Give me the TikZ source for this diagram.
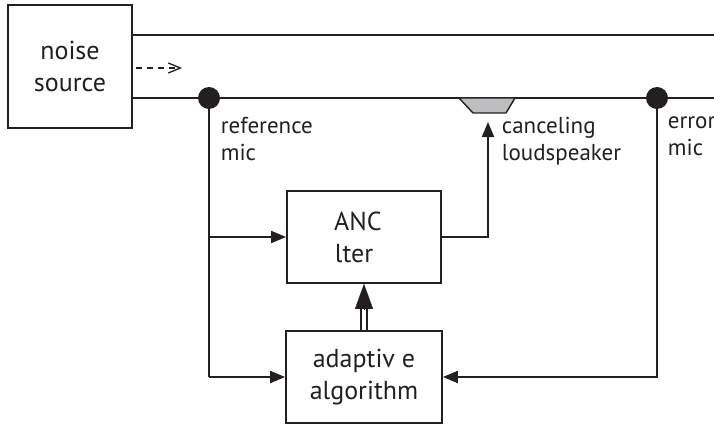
\documentclass[tikz,border=0pt]{standalone}
\usepackage{fontspec}
\setmainfont{PT Sans}
\usetikzlibrary{arrows.meta,calc}
\definecolor{ink}{HTML}{231F20}
\definecolor{cone}{HTML}{BCBEC0}
\begin{document}
\begin{tikzpicture}[x=1pt,y=-1pt,color=ink,
  every path/.style={line width=1.8pt},
  blockbox/.style={draw,line width=1.8pt,align=center,inner sep=0pt,
    font=\fontsize{26}{32}\selectfont},
  lbl/.style={align=left,anchor=north west,inner sep=0pt,
    font=\fontsize{23}{27}\selectfont},
  mic/.style={circle,fill=ink,draw=none,minimum size=22pt,inner sep=0pt},
  sig/.style={line width=1.8pt,-{Triangle[length=15pt,width=12pt]}},
]
\useasboundingbox (0,0) rectangle (714,425);

% blocks
\node[blockbox,minimum width=124pt,minimum height=123pt] (noise) at (70,66.5) {noise\\source};
\node[blockbox,minimum width=154pt,minimum height=92pt] (anc) at (364,237)
  {ANC\hspace*{12pt}\\lter\hspace*{20pt}};
\node[blockbox,minimum width=156pt,minimum height=92pt] (alg) at (364,377) {adaptiv e\\algorithm};

% duct walls
\coordinate (wt) at (noise.east |- 0,35);
\coordinate (wb) at (noise.east |- 0,98);
\coordinate (et) at (714,35);
\coordinate (eb) at (714,98);
\draw (wt) -- (et);
\draw (wb) -- (eb);

% propagation direction
\coordinate (d0) at (136,68);
\coordinate (d1) at (182,68);
\draw[line width=1.3pt,dash pattern=on 6pt off 5pt,-{Straight Barb[length=12pt,width=10pt]}] (d0) -- (d1);

% microphones
\node[mic] (refmic) at (209,98) {};
\node[mic] (errmic) at (657,98) {};

% loudspeaker
\draw[fill=cone,line width=1.4pt] (459,98) -- (515,98) -- (506,113) -- (473,113) -- cycle;
\coordinate (spkin) at (488,122);

% labels
\node[lbl] (reflbl) at (220,116) {reference\\mic};
\node[lbl] (spklbl) at (501,116) {canceling\\loudspeaker};
\node[lbl] (errlbl) at (667,116) {error\\mic};

% reference path
\coordinate (rb) at (refmic.center |- alg.west);
\coordinate (ra) at (refmic.center |- anc.west);
\draw (refmic.center) -- (rb);
\draw[sig] (ra) -- (anc.west);
\draw[sig] (rb) -- (alg.west);

% error path
\draw[sig] (errmic.center) |- (alg.east);

% filter output to loudspeaker
\draw[sig] (anc.east) -| (spkin);

% coefficient update
\draw[line width=1.4pt] ($(alg.north)+(-3,0)$) -- ($(anc.south)+(-3,24)$);
\draw[line width=1.4pt] ($(alg.north)+(3,0)$) -- ($(anc.south)+(3,24)$);
\draw[line width=0.1pt,-{Triangle[length=25pt,width=18pt]}] ($(alg.north)+(0,-21)$) -- (anc.south);
\end{tikzpicture}
\end{document}
